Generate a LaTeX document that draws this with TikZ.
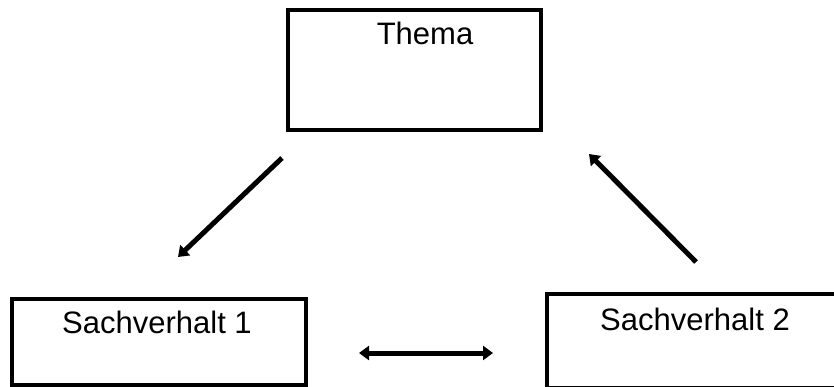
\documentclass[tikz,border=0pt]{standalone}
\usepackage{fontspec}
\setmainfont{Liberation Sans}
\usetikzlibrary{arrows.meta}
\begin{document}
\begin{tikzpicture}[x=1pt,y=-1pt,
  box/.style={draw=black, line width=3.5pt, fill=white, inner sep=0pt},
  lbl/.style={anchor=base, inner sep=0pt, font=\fontsize{31}{37}\selectfont},
  arr/.style={line width=5pt, -{Triangle[length=10pt,width=14pt]}},
  darr/.style={line width=5pt, {Triangle[length=10pt,width=14pt]}-{Triangle[length=10pt,width=14pt]}}]
\useasboundingbox (0,0) rectangle (834,387);
\clip (0,0) rectangle (834,387);
\node[box, minimum width=253pt, minimum height=120pt] (thema) at (414.5,70) {};
\node[box, minimum width=294pt, minimum height=86pt] (s1) at (159,342) {};
\node[box, minimum width=300pt, minimum height=94pt] (s2) at (697,341) {};
\node[lbl] (tthema) at (425,45) {Thema};
\node[lbl] (ts1) at (157,333) {Sachverhalt 1};
\node[lbl] (ts2) at (695,330) {Sachverhalt 2};
\coordinate (a1s) at (282,158);
\coordinate (a1e) at (178,257);
\coordinate (a2s) at (696,262);
\coordinate (a2e) at (589,154);
\coordinate (a3s) at (359,353);
\coordinate (a3e) at (493,353);
\draw[arr] (a1s) -- (a1e);
\draw[arr] (a2s) -- (a2e);
\draw[darr] (a3s) -- (a3e);
\end{tikzpicture}
\end{document}
